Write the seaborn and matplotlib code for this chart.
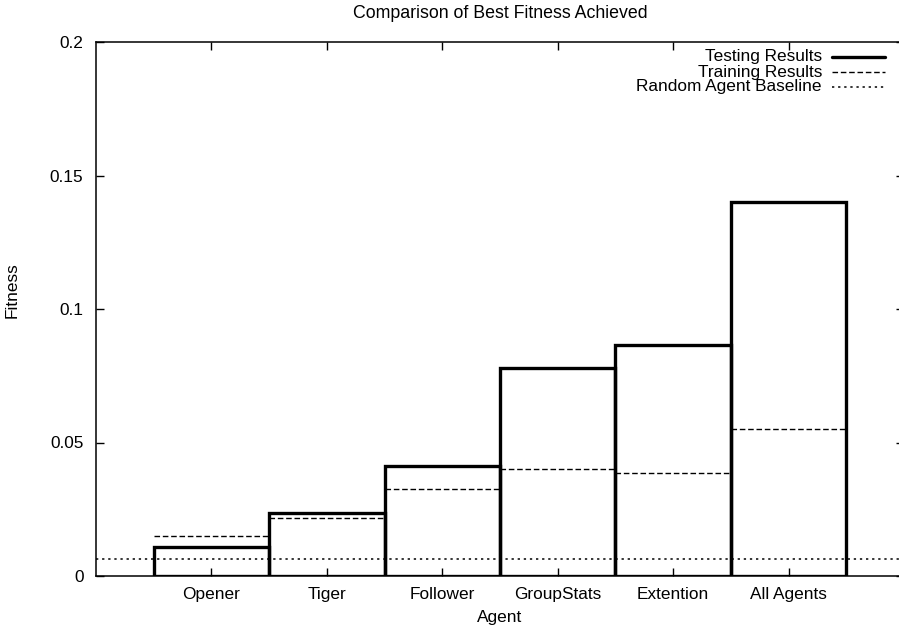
import matplotlib
matplotlib.use("Agg")
import matplotlib.pyplot as plt
from matplotlib.lines import Line2D
import seaborn as sns
import pandas as pd
import numpy as np

agents = ["Opener", "Tiger", "Follower", "GroupStats", "Extention", "All Agents"]
testing = [0.011, 0.0235, 0.0412, 0.078, 0.0865, 0.140]
training = [0.015, 0.0217, 0.0325, 0.0402, 0.0387, 0.0552]
baseline = 0.0062
yticks = [0, 0.05, 0.1, 0.15, 0.2]
ytick_labels = ["0", "0.05", "0.1", "0.15", "0.2"]
legend_labels = ["Testing Results", "Training Results", "Random Agent Baseline"]

sns.set_theme(style="white")
plt.rcParams["font.family"] = ["Liberation Sans", "DejaVu Sans"]

W, H = 899, 631
fig = plt.figure(figsize=(W / 100, H / 100), dpi=100)
ax = fig.add_axes([96 / W, (H - 576) / H, (904 - 96) / W, (576 - 42) / H])

df = pd.DataFrame({"Agent": agents, "Fitness": testing})
sns.barplot(data=df, x="Agent", y="Fitness", order=agents, width=1.0,
            color="white", edgecolor="black", linewidth=2.4, ax=ax,
            zorder=2)
for p in ax.patches:
    p.set_facecolor("none")

test_style = dict(color="black", linewidth=2.4, linestyle="-")
train_style = dict(color="black", linewidth=1.0, linestyle=(0, (4, 2)))
base_style = dict(color="black", linewidth=1.1, linestyle=(0, (1.5, 2.5)))

pos = np.arange(len(agents))
ax.hlines(training, pos - 0.5, pos + 0.5, colors="black",
          linewidth=train_style["linewidth"],
          linestyles=train_style["linestyle"], zorder=3)
ax.axhline(baseline, zorder=3, **base_style)

ax.set_xlim(-1, 6)
ax.set_ylim(0, 0.2)
ax.set_yticks(yticks)
ax.set_yticklabels(ytick_labels)
ax.set_xticks(pos)
ax.set_xticklabels(agents)

for s in ax.spines.values():
    s.set_visible(True)
    s.set_color("black")
    s.set_linewidth(1.1)

ax.tick_params(axis="both", which="major", direction="in", length=6,
               width=1.0, color="black", labelsize=12.4, labelcolor="black",
               top=True, right=True, bottom=True, left=True)
ax.tick_params(axis="y", pad=9)
ax.tick_params(axis="x", pad=8)

ax.set_xlabel("Agent", fontsize=12.4, color="black", labelpad=6)
ax.set_ylabel("Fitness", fontsize=12.4, color="black")
ax.yaxis.set_label_coords(-0.094, 0.535)
fig.text(500 / W, 1 - 14 / H, "Comparison of Best Fitness Achieved",
         ha="center", va="center", fontsize=12.8, color="black")

# Key in the upper right: right-aligned labels followed by line samples
row_y = [57, 72, 87]
for label, style, yy in zip(legend_labels,
                            [test_style, train_style, base_style], row_y):
    fig.text(822 / W, 1 - yy / H, label, ha="right", va="center",
             fontsize=12.4, color="black")
    fig.add_artist(Line2D([832 / W, 885 / W], [1 - yy / H, 1 - yy / H],
                          transform=fig.transFigure, **style))

ax.grid(False)
fig.savefig("out.png", dpi=100)
